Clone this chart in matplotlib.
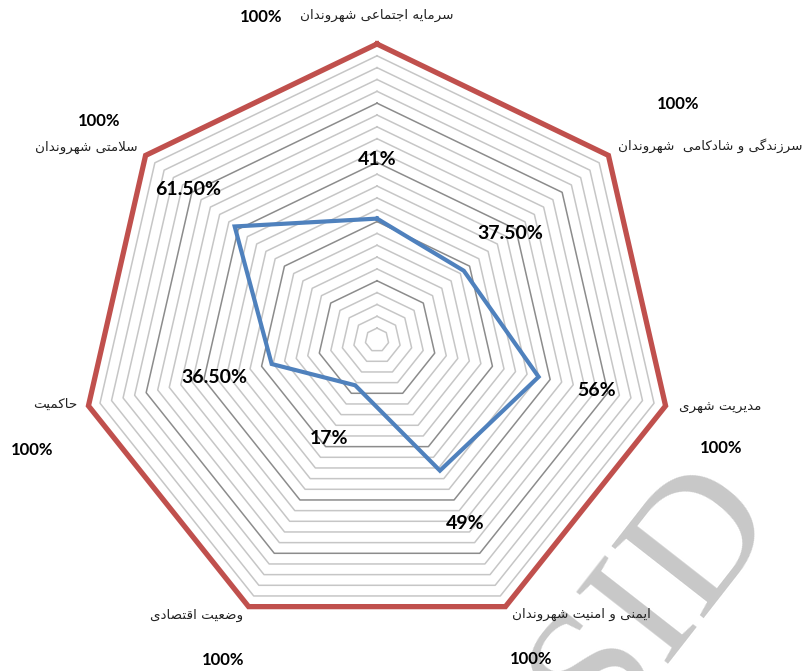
import numpy as np
import matplotlib
matplotlib.use('Agg')
import matplotlib.pyplot as plt

# ---- data ----
categories = ['سرمایه اجتماعی شهروندان', 'سرزندگی و شادکامی  شهروندان', 'مدیریت شهری',
              'ایمنی و امنیت شهروندان', 'وضعیت اقتصادی', 'حاکمیت', 'سلامتی شهروندان']
target = [1.0, 1.0, 1.0, 1.0, 1.0, 1.0, 1.0]
current = [0.41, 0.375, 0.56, 0.49, 0.17, 0.365, 0.615]
target_labels = ['100%'] * 7
current_labels = ['41%', '37.50%', '56%', '49%', '17%', '36.50%', '61.50%']

# label placement (pixels from the outer vertex)
cat_offsets = [(0, 29), (102, 10), (55, -2), (76, -8), (-52, -9), (-33, 1), (-59, 8)]
pct_offsets = [(-116, 27), (70, 51), (56, -42), (26, -52), (-25, -53), (-56, -44), (-46, 34)]

# minimal arabic/persian shaping (matplotlib has no bidi / joining support)
FORMS = {
    '\u0627': (0xFE8D, 0xFE8E, None, None),
    '\u0628': (0xFE8F, 0xFE90, 0xFE91, 0xFE92),
    '\u062A': (0xFE95, 0xFE96, 0xFE97, 0xFE98),
    '\u062C': (0xFE9D, 0xFE9E, 0xFE9F, 0xFEA0),
    '\u062D': (0xFEA1, 0xFEA2, 0xFEA3, 0xFEA4),
    '\u062F': (0xFEA9, 0xFEAA, None, None),
    '\u0631': (0xFEAD, 0xFEAE, None, None),
    '\u0632': (0xFEAF, 0xFEB0, None, None),
    '\u0633': (0xFEB1, 0xFEB2, 0xFEB3, 0xFEB4),
    '\u0634': (0xFEB5, 0xFEB6, 0xFEB7, 0xFEB8),
    '\u0635': (0xFEB9, 0xFEBA, 0xFEBB, 0xFEBC),
    '\u0636': (0xFEBD, 0xFEBE, 0xFEBF, 0xFEC0),
    '\u0639': (0xFEC9, 0xFECA, 0xFECB, 0xFECC),
    '\u0642': (0xFED5, 0xFED6, 0xFED7, 0xFED8),
    '\u0644': (0xFEDD, 0xFEDE, 0xFEDF, 0xFEE0),
    '\u0645': (0xFEE1, 0xFEE2, 0xFEE3, 0xFEE4),
    '\u0646': (0xFEE5, 0xFEE6, 0xFEE7, 0xFEE8),
    '\u0647': (0xFEE9, 0xFEEA, 0xFEEB, 0xFEEC),
    '\u0648': (0xFEED, 0xFEEE, None, None),
    '\u06A9': (0xFB8E, 0xFB8F, 0xFB90, 0xFB91),
    '\u06AF': (0xFB92, 0xFB93, 0xFB94, 0xFB95),
    '\u06CC': (0xFBFC, 0xFBFD, 0xFBFE, 0xFBFF),
}


def shape(text):
    text = text.replace('\u064A', '\u06CC').replace('\u0643', '\u06A9')
    out = []
    i = 0
    n = len(text)
    while i < n:
        c = text[i]
        f = FORMS.get(c)
        if f is None:
            out.append(c)
            i += 1
            continue
        prev = FORMS.get(text[i - 1]) if i > 0 else None
        link_prev = prev is not None and prev[2] is not None
        if c == '\u0644' and i + 1 < n and text[i + 1] == '\u0627':
            out.append(chr(0xFEFC if link_prev else 0xFEFB))
            i += 2
            continue
        nxt = text[i + 1] if i + 1 < n else ''
        link_next = f[2] is not None and nxt in FORMS
        if link_prev and link_next:
            g = f[3]
        elif link_prev:
            g = f[1]
        elif link_next:
            g = f[2]
        else:
            g = f[0]
        out.append(chr(g))
        i += 1
    return ''.join(reversed(out))


n = len(categories)
theta = np.arange(n) * 2 * np.pi / n
closed = np.append(theta, theta[0])

fig = plt.figure(figsize=(8.03, 6.71), dpi=100)
ax = fig.add_axes([0.1009, 0.0522, 0.7372, 0.8823], projection='polar')
ax.set_zorder(2)
ax.set_theta_zero_location('N')
ax.set_theta_direction(-1)
ax.set_ylim(0, 1)
ax.set_xticks([])
ax.set_yticks([])
ax.grid(False)
ax.spines['polar'].set_visible(False)
ax.patch.set_visible(False)

# heptagon gridlines, major every 20%
for k, lvl in enumerate(np.arange(0.04, 1.0001, 0.04)):
    major = (k + 1) % 5 == 0
    ax.plot(closed, np.full(n + 1, lvl), color='#8c8c8c' if major else '#c6c6c6',
            lw=1.1, zorder=1, clip_on=False)

ax.plot(closed, np.append(target, target[0]), color='#C0504D', lw=3.8,
        zorder=3, clip_on=False, solid_joinstyle='miter')
ax.plot(closed, np.append(current, current[0]), color='#4F81BD', lw=3.0,
        zorder=4, clip_on=False, solid_joinstyle='miter')

for t, v, lab in zip(theta, current, current_labels):
    ax.text(t, v + 0.2, lab, ha='center', va='center', fontsize=14,
            fontweight='bold', family='Lato', color='black', zorder=5)

for t, v, cat, off in zip(theta, target, categories, cat_offsets):
    ax.annotate(shape(cat), (t, v), xytext=off, textcoords='offset pixels',
                ha='center', va='center', fontsize=9.7, family='DejaVu Sans',
                color='#222222', annotation_clip=False)

for t, v, lab, off in zip(theta, target, target_labels, pct_offsets):
    ax.annotate(lab, (t, v), xytext=off, textcoords='offset pixels',
                ha='center', va='center', fontsize=12, fontweight='bold',
                family='Lato', color='black', annotation_clip=False)

# faint watermark from the scanned source, kept behind the chart
fig.text(0.815, 0.11, 'SID', fontsize=128, family='Liberation Serif', color='#c8c8c8',
         rotation=52, ha='center', va='center', zorder=1)

fig.savefig('out.png', dpi=100)
